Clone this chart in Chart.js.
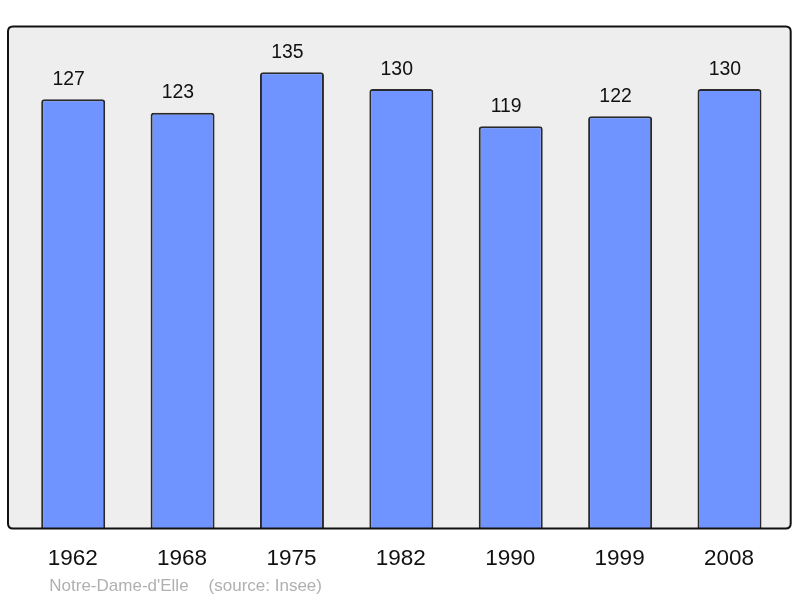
<!DOCTYPE html>
<html>
<head>
<meta charset="utf-8">
<script src="https://cdn.jsdelivr.net/npm/chart.js@4/dist/chart.umd.min.js"></script>
<style>
html,body{margin:0;padding:0;background:#fff;}
#wrap{width:800px;height:598px;position:relative;}
</style>
</head>
<body>
<div id="wrap"><canvas id="c" width="800" height="598"></canvas></div>
<script>
const years = ['1962','1968','1975','1982','1990','1999','2008'];
const population = [127,123,135,130,119,122,130];
const footerName = "Notre-Dame-d'Elle";
const footerSource = "(source: Insee)";

const FONT = '"Liberation Sans", Arial, sans-serif';

function panelPath(ctx, a) {
  const x0 = a.left - 10.5, x1 = a.right + 6.5, y0 = a.top - 0.5, y1 = a.bottom + 0.5;
  const r = 5;
  ctx.beginPath();
  ctx.moveTo(x0 + r, y0);
  ctx.lineTo(x1 - r, y0);
  ctx.quadraticCurveTo(x1, y0, x1, y0 + r);
  ctx.lineTo(x1, y1 - r);
  ctx.quadraticCurveTo(x1, y1, x1 - r, y1);
  ctx.lineTo(x0 + r, y1);
  ctx.quadraticCurveTo(x0, y1, x0, y1 - r);
  ctx.lineTo(x0, y0 + r);
  ctx.quadraticCurveTo(x0, y0, x0 + r, y0);
  ctx.closePath();
}

const decor = {
  id: 'decor',
  beforeDraw(chart) {
    const {ctx, chartArea: a} = chart;
    ctx.save();
    panelPath(ctx, a);
    ctx.fillStyle = '#eeeeee';
    ctx.fill();
    ctx.restore();
  },
  afterDatasetsDraw(chart) {
    const {ctx, chartArea: a} = chart;
    ctx.save();
    panelPath(ctx, a);
    ctx.lineWidth = 2;
    ctx.strokeStyle = '#111';
    ctx.stroke();

    const meta = chart.getDatasetMeta(0);
    ctx.fillStyle = '#111';
    ctx.textAlign = 'center';
    ctx.textBaseline = 'alphabetic';
    ctx.font = '19.4px ' + FONT;
    meta.data.forEach((bar, i) => {
      ctx.fillText(String(population[i]), bar.x - 4.6, bar.y - 14.5);
    });
    ctx.font = '22.5px ' + FONT;
    const xs = chart.scales.x;
    years.forEach((y, i) => {
      ctx.fillText(y, xs.getPixelForValue(i) - 0.5, a.bottom + 36.5);
    });
    ctx.textAlign = 'left';
    ctx.font = '17px ' + FONT;
    ctx.fillStyle = '#b0b0b0';
    const fx = a.left + 30.8;
    const fy = a.bottom + 62.5;
    ctx.fillText(footerName, fx, fy);
    const w = ctx.measureText(footerName).width;
    ctx.fillText(footerSource, fx + w + 20, fy);
    ctx.restore();
  }
};

new Chart(document.getElementById('c'), {
  type: 'bar',
  data: {
    labels: years,
    datasets: [{
      data: population,
      backgroundColor: '#7094ff',
      borderColor: '#2a2a2a',
      borderWidth: 2,
      borderRadius: 3,
      borderSkipped: 'bottom',
      barPercentage: 0.585,
      categoryPercentage: 1.0
    }]
  },
  options: {
    responsive: false,
    animation: false,
    devicePixelRatio: 1,
    layout: { padding: { left: 18.5, right: 15.8, top: 27, bottom: 70 } },
    plugins: { legend: { display: false }, tooltip: { enabled: false } },
    scales: {
      x: { display: false },
      y: { display: false, min: 0, max: 148.4 }
    }
  },
  plugins: [decor]
});
</script>
</body>
</html>
